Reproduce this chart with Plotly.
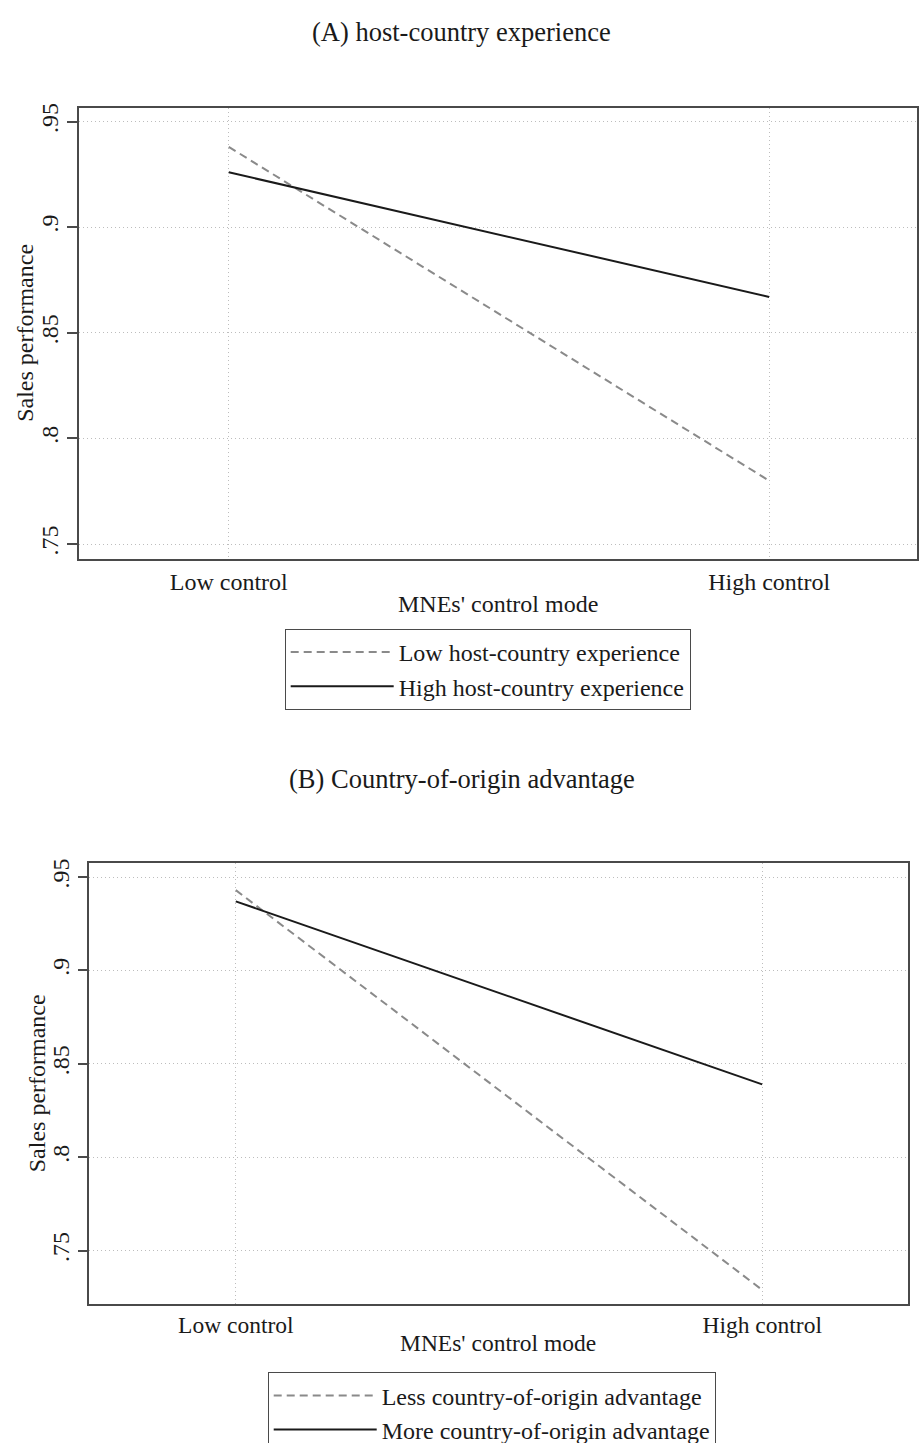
import plotly.graph_objects as go

# ---- data ----
categories = ["Low control", "High control"]
x_pos = [0, 1]

panel_a_title = "(A) host-country experience"
a_low_name = "Low host-country experience"
a_low = [0.938, 0.780]
a_high_name = "High host-country experience"
a_high = [0.926, 0.867]

panel_b_title = "(B) Country-of-origin advantage"
b_less_name = "Less country-of-origin advantage"
b_less = [0.943, 0.729]
b_more_name = "More country-of-origin advantage"
b_more = [0.937, 0.839]

y_tickvals = [0.75, 0.80, 0.85, 0.90, 0.95]
y_ticktext = [".75", ".8", ".85", ".9", ".95"]
x_title = "MNEs' control mode"
y_title = "Sales performance"

W, H = 919, 1460   # page viewport is 919x1443; the bottom legend is cut off as in the original
FONT = "Liberation Serif"
DASH_COL = "#8a8a8a"
SOLID_COL = "#1a1a1a"
DASH = "8px,5px"

def px_x(p):
    return p / W

def px_y(p):
    return 1 - p / H

fig = go.Figure()

# panel A
fig.add_trace(go.Scatter(x=x_pos, y=a_low, mode="lines", name=a_low_name,
                         line=dict(color=DASH_COL, width=2, dash=DASH),
                         xaxis="x", yaxis="y", legend="legend"))
fig.add_trace(go.Scatter(x=x_pos, y=a_high, mode="lines", name=a_high_name,
                         line=dict(color=SOLID_COL, width=2),
                         xaxis="x", yaxis="y", legend="legend"))
# panel B
fig.add_trace(go.Scatter(x=x_pos, y=b_less, mode="lines", name=b_less_name,
                         line=dict(color=DASH_COL, width=2, dash=DASH),
                         xaxis="x2", yaxis="y2", legend="legend2"))
fig.add_trace(go.Scatter(x=x_pos, y=b_more, mode="lines", name=b_more_name,
                         line=dict(color=SOLID_COL, width=2),
                         xaxis="x2", yaxis="y2", legend="legend2"))

axis_common = dict(showline=True, mirror=True, linecolor="#4a4a4a", linewidth=1.5,
                   showgrid=True, gridcolor="#bdbdbd", griddash="1px,3px", gridwidth=1,
                   zeroline=False, color="#1a1a1a")

xa = dict(axis_common, tickvals=x_pos, ticktext=categories, ticks="",
          tickfont=dict(family=FONT, size=24, color="#1a1a1a"))
ya = dict(axis_common, tickvals=y_tickvals, ticktext=y_ticktext, ticks="outside",
          ticklen=10, tickwidth=1.5, tickcolor="#4a4a4a", tickangle=-90,
          tickfont=dict(family=FONT, size=24, color="#1a1a1a"))

legend_common = dict(xanchor="left", yanchor="top", bordercolor="#4a4a4a",
                     borderwidth=1, bgcolor="white",
                     font=dict(family=FONT, size=24, color="#1a1a1a"),
                     itemwidth=103, tracegroupgap=0)

fig.update_layout(
    width=W, height=H,
    margin=dict(l=0, r=0, t=0, b=0),
    paper_bgcolor="white", plot_bgcolor="white",
    font=dict(family=FONT, color="#1a1a1a"),
    xaxis=dict(xa, domain=[px_x(79), px_x(918)], range=[-0.2773, 1.2736],
               anchor="y"),
    yaxis=dict(ya, domain=[px_y(556), px_y(103)], range=[0.7429, 0.9566],
               anchor="x"),
    xaxis2=dict(xa, domain=[px_x(89), px_x(909)], range=[-0.279, 1.277],
                anchor="y2", tickfont=dict(family=FONT, size=23.5, color="#1a1a1a")),
    yaxis2=dict(ya, domain=[px_y(1303), px_y(861)], range=[0.7217, 0.9575],
                anchor="x2", ticklen=9),
    legend=dict(legend_common, x=px_x(285), y=px_y(626)),
    legend2=dict(legend_common, x=px_x(268), y=px_y(1372)),
    showlegend=True,
)

ann_font = dict(family=FONT, size=24, color="#1a1a1a")
annotations = [
    dict(text=panel_a_title, x=px_x(462), y=px_y(27), xref="paper", yref="paper",
         showarrow=False, xanchor="center", yanchor="middle",
         font=dict(family=FONT, size=26.5, color="#1a1a1a")),
    dict(text=panel_b_title, x=px_x(463), y=px_y(777), xref="paper", yref="paper",
         showarrow=False, xanchor="center", yanchor="middle",
         font=dict(family=FONT, size=26.5, color="#1a1a1a")),
    dict(text=x_title, x=px_x(499), y=px_y(601), xref="paper", yref="paper",
         showarrow=False, xanchor="center", yanchor="middle", font=ann_font),
    dict(text=x_title, x=px_x(499), y=px_y(1343), xref="paper", yref="paper",
         showarrow=False, xanchor="center", yanchor="middle",
         font=dict(family=FONT, size=23.5, color="#1a1a1a")),
    dict(text=y_title, x=px_x(25), y=px_y(329), xref="paper", yref="paper",
         showarrow=False, xanchor="center", yanchor="middle", textangle=-90,
         font=ann_font),
    dict(text=y_title, x=px_x(37), y=px_y(1082), xref="paper", yref="paper",
         showarrow=False, xanchor="center", yanchor="middle", textangle=-90,
         font=ann_font),
]
fig.update_layout(annotations=annotations)

fig.write_html("out.html", config={"displayModeBar": False},
               post_script="document.body.style.margin='0';document.body.style.overflow='hidden';")
